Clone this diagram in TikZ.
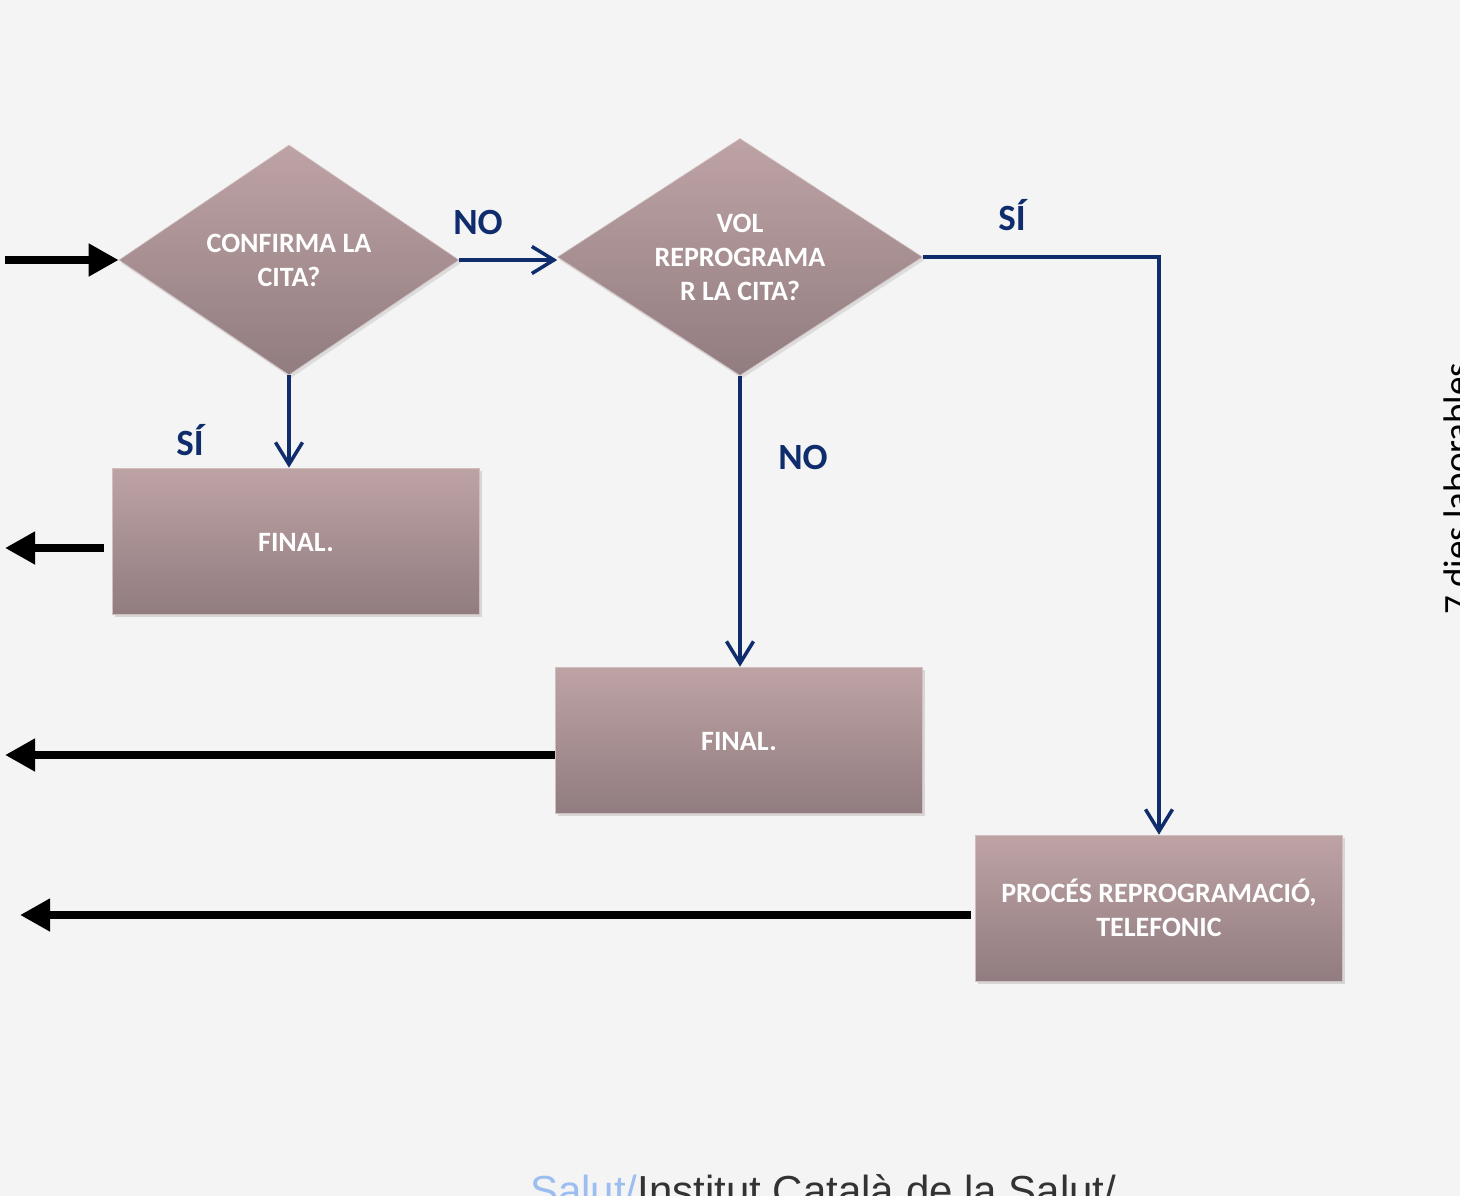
\documentclass[tikz,border=0pt]{standalone}
\usepackage{fontspec}
\setmainfont{Carlito}
\newfontfamily\footfont{Liberation Sans}
\usetikzlibrary{shapes.geometric,arrows.meta,shadows}
\definecolor{bg}{HTML}{F4F4F4}
\definecolor{shtop}{HTML}{BEA3A5}
\definecolor{shbot}{HTML}{917C7F}
\definecolor{navy}{HTML}{0F2C6C}
\definecolor{footblue}{HTML}{9BBDF0}
\definecolor{footgray}{HTML}{333333}
\tikzset{
  box/.style={rectangle, draw=shtop!70!white, line width=0.6pt, top color=shtop, bottom color=shbot,
    minimum width=367pt, minimum height=146pt, inner sep=0pt,
    drop shadow={opacity=0.25, shadow xshift=2pt, shadow yshift=-3pt}},
  decision/.style={diamond, draw=shtop!70!white, line width=0.6pt, top color=shtop, bottom color=shbot,
    inner sep=0pt, drop shadow={opacity=0.2, shadow xshift=2pt, shadow yshift=-3pt}},
  intext/.style={text=white, font=\bfseries\fontsize{28}{34}\selectfont, align=center},
  lbl/.style={text=navy, font=\bfseries\fontsize{37}{40}\selectfont},
  navyarrow/.style={draw=navy, line width=3.5pt, -{Straight Barb[length=22pt,width=27pt,line width=3.5pt]}},
  blkarrow/.style={draw=black, line width=8pt, -{Triangle[length=30pt,width=31pt]}},
}
\begin{document}
\begin{tikzpicture}[x=1pt,y=-1pt]
\useasboundingbox (0,0) rectangle (1460,1196);
\fill[bg] (0,0) rectangle (1460,1196);
\clip (0,0) rectangle (1460,1196);

% decisions
\node[decision, minimum width=340pt, minimum height=230pt] (d1) at (289,260) {};
\node[intext] (t1) at (d1.center) {CONFIRMA LA\\CITA?};
\node[decision, minimum width=365pt, minimum height=237pt] (d2) at (740,257) {};
\node[intext] (t2) at (d2.center) {VOL\\REPROGRAMA\\R LA CITA?};

% boxes
\node[box] (f1) at (296,541) {};
\node[intext] (tf1) at ([yshift=-2pt]f1.center) {FINAL.};
\node[box] (f2) at (739,740) {};
\node[intext] (tf2) at ([yshift=-2pt]f2.center) {FINAL.};
\node[box] (p) at (1159,908) {};
\node[intext] (tp) at (p.center) {PROCÉS REPROGRAMACIÓ,\\TELEFONIC};

% navy connectors
\draw[navyarrow] (d1.east) -- (d1.east -| d2.west);
\draw[navyarrow] (d1.south) -- (f1.north -| d1.south);
\draw[navyarrow] (d2.south) -- (f2.north -| d2.south);
\draw[navyarrow] (d2.east) -| (p.north);

% labels
\node[lbl] (lno1) at (478,222) {NO};
\node[lbl] (lsi1) at (190,440) {SÍ};
\node[lbl] (lno2) at (803,457) {NO};
\node[lbl] (lsi2) at (1012,215) {SÍ};

% black arrows
\coordinate (in) at (5,260);
\draw[blkarrow] (in) -- (d1.west);
\coordinate (o1) at (5,548);
\draw[blkarrow] (f1.west |- o1) ++(-8,0) -- (o1);
\coordinate (o2) at (5,755);
\draw[blkarrow] (f2.west |- o2) -- (o2);
\coordinate (o3) at (20,915);
\draw[blkarrow] (p.west |- o3) ++(-4,0) -- (o3);

% side text
\node[rotate=90, anchor=base west, inner sep=0pt, font=\fontsize{37}{40}\selectfont] (side) at (1469,615) {7 dies laborables};

% footer
\node[anchor=base west, inner sep=0pt, font=\footfont\fontsize{42}{46}\selectfont] (foot) at (530,1205)
  {\textcolor{footblue}{Salut/}\textcolor{footgray}{Institut Català de la Salut/}};
\end{tikzpicture}
\end{document}
